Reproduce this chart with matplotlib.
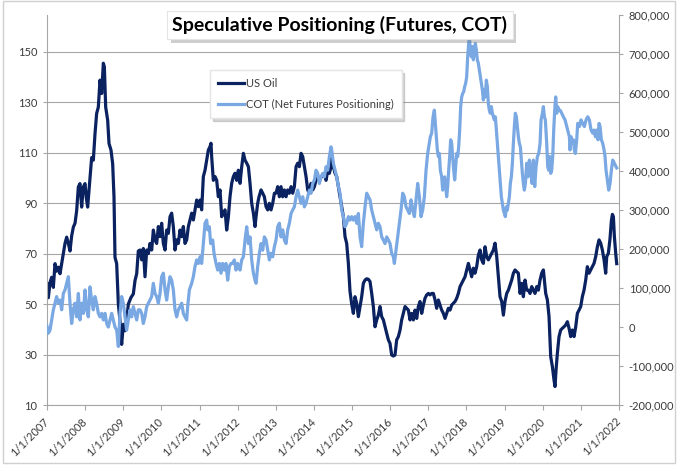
import matplotlib
matplotlib.use("Agg")
import matplotlib.pyplot as plt
from matplotlib import patheffects
from matplotlib.patches import Rectangle
from matplotlib.ticker import FuncFormatter

plt.rcParams["font.family"] = ["Lato", "DejaVu Sans"]

# US Oil (left axis, USD) -- (decimal year, price)
oil_t = [
    2007.000, 2007.035, 2007.079, 2007.122, 2007.166, 2007.210, 2007.253, 2007.297, 2007.341, 2007.385,
    2007.428, 2007.472, 2007.516, 2007.560, 2007.603, 2007.647, 2007.691, 2007.735, 2007.778, 2007.822,
    2007.865, 2007.909, 2007.953, 2007.997, 2008.031, 2008.066, 2008.128, 2008.171, 2008.215, 2008.259,
    2008.302, 2008.346, 2008.390, 2008.434, 2008.477, 2008.504, 2008.539, 2008.591, 2008.626, 2008.678,
    2008.722, 2008.757, 2008.783, 2008.827, 2008.871, 2008.914, 2008.958, 2009.002, 2009.046, 2009.089,
    2009.133, 2009.203, 2009.264, 2009.308, 2009.352, 2009.395,
    2009.439, 2009.483, 2009.526, 2009.570, 2009.614, 2009.658, 2009.701, 2009.745, 2009.789, 2009.832,
    2009.876, 2009.920, 2009.964, 2010.007, 2010.051, 2010.095, 2010.138, 2010.182, 2010.226, 2010.269,
    2010.313, 2010.357, 2010.401, 2010.444, 2010.488, 2010.532, 2010.575, 2010.619, 2010.663, 2010.707,
    2010.750, 2010.794, 2010.838, 2010.881, 2010.925, 2010.969, 2011.013, 2011.056, 2011.100, 2011.144,
    2011.187, 2011.231, 2011.275, 2011.301, 2011.318, 2011.362, 2011.406, 2011.450, 2011.493, 2011.537,
    2011.581, 2011.624, 2011.668, 2011.712, 2011.756, 2011.799, 2011.843, 2011.887, 2011.930, 2011.974,
    2012.018, 2012.062, 2012.106, 2012.150, 2012.193, 2012.237, 2012.281, 2012.324, 2012.368, 2012.412,
    2012.455, 2012.482, 2012.525, 2012.560, 2012.613, 2012.657, 2012.700, 2012.744, 2012.788, 2012.831,
    2012.875, 2012.919, 2012.963, 2013.006, 2013.050, 2013.094, 2013.137, 2013.181, 2013.225, 2013.269,
    2013.312, 2013.356, 2013.400, 2013.443, 2013.487, 2013.531, 2013.574, 2013.618, 2013.662, 2013.706,
    2013.749, 2013.793, 2013.837, 2013.880, 2013.924, 2013.968, 2014.012, 2014.055, 2014.099, 2014.143,
    2014.186, 2014.230, 2014.274, 2014.318, 2014.361, 2014.405, 2014.449, 2014.466, 2014.509, 2014.553,
    2014.597, 2014.641, 2014.684, 2014.728, 2014.772, 2014.815, 2014.859, 2014.903, 2014.946, 2014.990,
    2015.034, 2015.077, 2015.121, 2015.165, 2015.209, 2015.252, 2015.296, 2015.340, 2015.384, 2015.427,
    2015.471, 2015.515, 2015.558, 2015.602, 2015.646, 2015.689, 2015.733, 2015.777, 2015.821, 2015.864,
    2015.908, 2015.952, 2015.995, 2016.039, 2016.083, 2016.126, 2016.170, 2016.214, 2016.258, 2016.301,
    2016.345, 2016.389, 2016.432, 2016.476, 2016.520, 2016.564, 2016.607, 2016.651, 2016.695, 2016.738,
    2016.782, 2016.826, 2016.870, 2016.913, 2016.957, 2017.001, 2017.044, 2017.088, 2017.132, 2017.176,
    2017.219, 2017.263, 2017.307, 2017.350, 2017.394, 2017.438, 2017.481, 2017.525, 2017.569, 2017.613,
    2017.656, 2017.700, 2017.744, 2017.787, 2017.831, 2017.875, 2017.918, 2017.962, 2018.006, 2018.050,
    2018.093, 2018.137, 2018.181, 2018.224, 2018.268, 2018.312, 2018.356, 2018.399, 2018.443, 2018.487,
    2018.530, 2018.574, 2018.618, 2018.662, 2018.705, 2018.749, 2018.793, 2018.836, 2018.880, 2018.924,
    2018.968, 2019.011, 2019.055, 2019.099, 2019.142, 2019.186, 2019.230, 2019.274, 2019.317, 2019.361,
    2019.405, 2019.449, 2019.492, 2019.536, 2019.580, 2019.623, 2019.667, 2019.711, 2019.754, 2019.798,
    2019.842, 2019.886, 2019.929, 2019.973, 2020.017, 2020.034, 2020.078, 2020.122, 2020.165, 2020.209,
    2020.253, 2020.296, 2020.322, 2020.349, 2020.384, 2020.427, 2020.471, 2020.515, 2020.558, 2020.602,
    2020.646, 2020.690, 2020.733, 2020.777, 2020.821, 2020.865, 2020.908, 2020.952, 2020.996, 2021.039,
    2021.083, 2021.127, 2021.170, 2021.214, 2021.258, 2021.302, 2021.345, 2021.389, 2021.433, 2021.477,
    2021.520, 2021.564, 2021.608, 2021.651, 2021.678, 2021.721, 2021.765, 2021.800, 2021.827, 2021.853,
    2021.879, 2021.914, 2021.940,
]
oil_v = [
    58, 52.5, 58.5, 60.6, 56.6, 66, 63, 64.6, 62, 66,
    70, 74, 76.5, 74, 71, 77, 80.5, 82, 87, 96.4,
    97.7, 88.4, 96.4, 97.7, 92, 88.4, 100, 108, 107, 117.5,
    125.5, 128, 138.7, 133.4, 145.4, 144, 128, 122.8, 113.6, 111,
    105.6, 92.4, 68.5, 66, 50, 43.4, 34, 42, 39.4, 43.4,
    50, 52.6, 54, 59.3, 62, 71,
    71.4, 67.5, 72, 60.8, 71.4, 70, 74, 71.4, 79.3, 75.4,
    74, 80.7, 76.7, 82, 74, 71.4, 79.3, 78, 84.6, 86,
    80.7, 71.4, 75.4, 74, 79.3, 76.7, 80.7, 74, 75.4, 80.7,
    83.3, 86, 83.3, 87.3, 91.2, 88.6, 91.2, 87.3, 100.5, 103,
    107, 111, 112.4, 113.7, 108.4, 99, 100.5, 99, 92.5, 95.2,
    84.6, 86, 87.3, 79.3, 84.6, 92.5, 97.8, 100.5, 101.8, 99,
    103, 97.8, 104.4, 109.7, 107, 105.8, 104.4, 97.8, 89.9, 86,
    80.7, 84.6, 89.9, 92.5, 95.2, 93.9, 92.5, 88.6, 87.3, 89.9,
    87.3, 89.9, 93.9, 93.9, 96.5, 92.5, 96.5, 92.5, 95.2, 92.5,
    95.2, 93.9, 96.5, 93.9, 96.5, 104.4, 105.8, 104.4, 109.7, 108.4,
    104.4, 100.5, 95.2, 93.9, 97.8, 95.2, 96.5, 99, 100.5, 99,
    100.5, 100.5, 101.8, 99, 103, 101.8, 104.4, 108.4, 104.4, 101.8,
    100.5, 96.5, 92.5, 88.6, 84.6, 76.7, 74, 66.1, 55, 50,
    46.3, 52.9, 50.3, 45, 49, 52.9, 58.2, 59.5, 60, 59.8,
    58.9, 54.2, 49, 41, 43.7, 45.6, 49, 45, 43.7, 41,
    38.4, 35.8, 34.4, 29.8, 29.4, 29.8, 35.8, 37.1, 39.7, 43.7,
    46.3, 49, 48.3, 47.6, 43.7, 46.3, 43.7, 47.6, 44.3, 49,
    51, 46.3, 49.6, 52.3, 53.6, 54.2, 53.6, 54.2, 54.2, 51.6,
    48.3, 51.6, 49.6, 47.6, 46.3, 44.3, 46.3, 48.3, 47.6, 49.6,
    50.3, 51, 52.3, 54.2, 56.9, 58.2, 59.5, 60.8, 63.5, 66.1,
    63.5, 60.8, 64.2, 62.2, 64.8, 69.4, 71.4, 67.5, 66.1, 72.7,
    68.8, 67.5, 68.8, 70.1, 71.4, 74.1, 68.8, 60.8, 52.9, 51,
    45.6, 51, 54.2, 55.5, 57.5, 59.5, 62.2, 63.5, 62.8, 62.2,
    54.2, 58.2, 52.9, 59.5, 55.5, 55.5, 54.2, 56.9, 55.5, 54.2,
    56.9, 55.5, 59.5, 62.2, 63.5, 60.8, 54.2, 51.6, 45, 29.2,
    25.2, 19.9, 17.3, 23.9, 30.5, 37.1, 39.7, 40.4, 41, 41.7,
    43, 40.4, 37.1, 39.7, 37.1, 41, 46.3, 47.6, 49, 52.9,
    55.5, 59.5, 64.8, 62.2, 63.5, 64.8, 66.1, 68.8, 72.7, 75.4,
    74.1, 71.4, 67.5, 62.2, 68.8, 70.1, 76, 83, 85.5, 84.6,
    76.7, 70, 66,
]

# COT net futures positioning (right axis, thousands of contracts)
cot_t = [
    2007.000, 2007.035, 2007.079, 2007.122, 2007.166, 2007.210, 2007.253, 2007.297, 2007.341, 2007.385,
    2007.428, 2007.472, 2007.516, 2007.559, 2007.603, 2007.647, 2007.690, 2007.734, 2007.778, 2007.822,
    2007.865, 2007.909, 2007.953, 2007.997, 2008.040, 2008.084, 2008.128, 2008.171, 2008.215, 2008.259,
    2008.302, 2008.346, 2008.390, 2008.434, 2008.477, 2008.521, 2008.565, 2008.608, 2008.652, 2008.696,
    2008.739, 2008.783, 2008.827, 2008.871, 2008.914, 2008.958, 2009.002, 2009.046, 2009.089, 2009.133,
    2009.177, 2009.220, 2009.264, 2009.308, 2009.352, 2009.395,
    2009.439, 2009.483, 2009.526, 2009.570, 2009.614, 2009.658, 2009.701, 2009.745, 2009.789, 2009.832,
    2009.876, 2009.920, 2009.964, 2010.007, 2010.051, 2010.095, 2010.138, 2010.182, 2010.226, 2010.269,
    2010.313, 2010.357, 2010.401, 2010.444, 2010.488, 2010.532, 2010.575, 2010.619, 2010.663, 2010.689,
    2010.733, 2010.794, 2010.838, 2010.881, 2010.925, 2010.969, 2011.013, 2011.056, 2011.100, 2011.144,
    2011.187, 2011.214, 2011.257, 2011.292, 2011.345, 2011.380, 2011.432, 2011.476, 2011.520, 2011.563,
    2011.607, 2011.651, 2011.694, 2011.738, 2011.782, 2011.826, 2011.869, 2011.913, 2011.957, 2012.000,
    2012.018, 2012.062, 2012.106, 2012.150, 2012.193, 2012.237, 2012.281, 2012.324, 2012.368, 2012.412,
    2012.455, 2012.482, 2012.525, 2012.569, 2012.613, 2012.657, 2012.700, 2012.744, 2012.788, 2012.831,
    2012.875, 2012.919, 2012.963, 2013.006, 2013.050, 2013.094, 2013.137, 2013.181, 2013.225, 2013.269,
    2013.312, 2013.356, 2013.400, 2013.443, 2013.487, 2013.531, 2013.574, 2013.618, 2013.662, 2013.706,
    2013.749, 2013.793, 2013.837, 2013.880, 2013.924, 2013.968, 2014.012, 2014.055, 2014.099, 2014.143,
    2014.186, 2014.230, 2014.274, 2014.318, 2014.361, 2014.405, 2014.449, 2014.466, 2014.509, 2014.553,
    2014.597, 2014.641, 2014.684, 2014.728, 2014.772, 2014.815, 2014.859, 2014.903, 2014.946, 2014.990,
    2015.034, 2015.078, 2015.121, 2015.165, 2015.209, 2015.252, 2015.296, 2015.340, 2015.384, 2015.427,
    2015.471, 2015.515, 2015.558, 2015.602, 2015.646, 2015.689, 2015.733, 2015.777, 2015.821, 2015.864,
    2015.908, 2015.952, 2015.995, 2016.039, 2016.083, 2016.109, 2016.153, 2016.197, 2016.240, 2016.284,
    2016.328, 2016.371, 2016.415, 2016.459, 2016.503, 2016.546, 2016.590, 2016.634, 2016.677, 2016.721,
    2016.765, 2016.808, 2016.852, 2016.896, 2016.940, 2016.983, 2017.027, 2017.053, 2017.088, 2017.123,
    2017.158, 2017.184, 2017.210, 2017.236, 2017.263, 2017.289, 2017.315, 2017.350, 2017.376, 2017.403,
    2017.429, 2017.455, 2017.481, 2017.507, 2017.534, 2017.560, 2017.586, 2017.612, 2017.638, 2017.665,
    2017.691, 2017.717, 2017.743, 2017.770, 2017.796, 2017.822, 2017.848, 2017.875, 2017.901, 2017.927,
    2017.953, 2017.980, 2018.006, 2018.032, 2018.058, 2018.076, 2018.102, 2018.128, 2018.154, 2018.181,
    2018.207, 2018.233, 2018.259, 2018.285, 2018.312, 2018.338, 2018.364, 2018.390, 2018.417, 2018.443,
    2018.469, 2018.495, 2018.521, 2018.548, 2018.574, 2018.600, 2018.626, 2018.653, 2018.679, 2018.705,
    2018.731, 2018.758, 2018.784, 2018.810, 2018.836, 2018.862, 2018.889, 2018.915, 2018.941, 2018.967,
    2018.994, 2019.020, 2019.046, 2019.072, 2019.099, 2019.125, 2019.151, 2019.177, 2019.204, 2019.230,
    2019.256, 2019.282, 2019.308, 2019.335, 2019.361, 2019.387, 2019.413, 2019.440, 2019.466, 2019.492,
    2019.518, 2019.545, 2019.580, 2019.615, 2019.650, 2019.685, 2019.720, 2019.755, 2019.790, 2019.825,
    2019.860, 2019.895, 2019.930, 2019.956, 2019.991, 2020.017, 2020.043, 2020.069, 2020.104, 2020.131,
    2020.157, 2020.183, 2020.209, 2020.235, 2020.262, 2020.288, 2020.314, 2020.340, 2020.367, 2020.393,
    2020.419, 2020.454, 2020.498, 2020.541, 2020.585, 2020.629, 2020.673, 2020.699, 2020.716, 2020.743,
    2020.769, 2020.804, 2020.830, 2020.856, 2020.891, 2020.917, 2020.961, 2021.005, 2021.048, 2021.092,
    2021.136, 2021.180, 2021.223, 2021.267, 2021.311, 2021.346, 2021.381, 2021.416, 2021.451, 2021.477,
    2021.503, 2021.538, 2021.573, 2021.608, 2021.634, 2021.660, 2021.695, 2021.730, 2021.765, 2021.800,
    2021.835, 2021.879, 2021.922, 2021.940,
]
cot_thousands = [
    2, -16, -8, 18, 44, 61, 78, 61, 69, 44,
    86, 95, 112, 129, 61, 9, 44, 61, 26, 86,
    18, 61, 35, 95, 44, 26, 103, 69, 44, 78,
    61, 35, 26, 35, 18, 35, 9, 0, 18, 35,
    18, 0, -8, -50, 35, 78, 61, 26, -8, 18,
    44, 26, 52, 35, 18, 44,
    44, 35, 9, 26, 52, 61, 69, 78, 112, 86,
    78, 61, 86, 129, 138, 95, 69, 103, 129, 120,
    95, 44, 26, 44, 52, 61, 35, 26, 18, 52,
    95, 112, 129, 155, 172, 163, 180, 163, 214, 266,
    274, 249, 257, 214, 223, 189, 163, 146, 163, 138,
    163, 146, 163, 120, 155, 163, 163, 172, 146, 163,
    155, 146, 172, 180, 223, 257, 214, 231, 172, 138,
    120, 112, 155, 189, 214, 197, 231, 223, 197, 172,
    189, 180, 206, 223, 257, 266, 231, 249, 223, 214,
    249, 266, 291, 300, 308, 334, 351, 334, 317, 334,
    308, 317, 334, 351, 343, 368, 377, 402, 394, 368,
    385, 394, 385, 411, 402, 437, 462, 454, 420, 402,
    385, 360, 343, 300, 283, 257, 266, 283, 274, 283,
    274, 283, 266, 291, 231, 206, 266, 308, 343, 334,
    326, 300, 283, 266, 249, 266, 257, 231, 223, 214,
    231, 223, 214, 189, 180, 163, 197, 231, 266, 300,
    343, 334, 308, 300, 291, 326, 300, 283, 326, 368,
    334, 283, 300, 334, 402, 445, 471, 488, 497, 539,
    556, 522, 488, 454, 437, 445, 402, 385, 351, 368,
    385, 360, 334, 360, 402, 437, 480, 471, 437, 402,
    377, 411, 445, 437, 462, 505, 565, 590, 599, 603,
    616, 625, 642, 693, 727, 745, 710, 693, 719, 685,
    710, 727, 710, 685, 676, 659, 642, 625, 608, 582,
    608, 590, 633, 616, 573, 556, 548, 565, 548, 539,
    531, 539, 505, 471, 437, 402, 368, 334, 317, 300,
    291, 283, 308, 300, 317, 334, 368, 385, 420, 471,
    514, 548, 539, 514, 488, 471, 462, 428, 394, 368,
    351, 368, 420, 385, 428, 402, 368, 428, 360, 411,
    437, 445, 471, 531, 548, 565, 539, 531, 471, 411,
    402, 437, 394, 402, 437, 505, 556, 590, 548, 565,
    556, 556, 548, 539, 531, 514, 497, 488, 454, 488,
    471, 480, 454, 445, 480, 522, 514, 531, 522, 514,
    531, 539, 531, 505, 497, 505, 488, 505, 480, 522,
    514, 480, 471, 454, 437, 402, 377, 351, 368, 402,
    428, 420, 411, 408,
]

year_ticks = list(range(2007, 2023))
year_labels = [f"1/1/{y}" for y in year_ticks]
left_ticks = [10, 30, 50, 70, 90, 110, 130, 150]
right_ticks = [-200000, -100000, 0, 100000, 200000, 300000, 400000, 500000, 600000, 700000, 800000]

OIL_COLOR = "#0b2260"
COT_COLOR = "#79a8e3"
AXIS_GRAY = "#a6a6a6"
TEXT_GRAY = "#3b3b3b"

W, H = 680, 467
fig = plt.figure(figsize=(W / 100, H / 100), dpi=100)
fig.patch.set_facecolor("white")

ax = fig.add_axes([47 / W, 62 / H, 572 / W, 390 / H])
ax2 = ax.twinx()

oil_line, = ax.plot(oil_t, oil_v, color=OIL_COLOR, lw=2.3, label="US Oil", solid_joinstyle="round")
cot_line, = ax2.plot(cot_t, [v * 1000 for v in cot_thousands], color=COT_COLOR, lw=2.3,
                     label="COT (Net Futures Positioning)", solid_joinstyle="round")

ax.set_xlim(2007, 2022)
ax.set_ylim(10, 164.5)
ax2.set_ylim(-200000, 800000)

ax.set_yticks(left_ticks)
ax.set_xticks(year_ticks)
ax.set_xticklabels(year_labels, rotation=45, ha="right", va="center", rotation_mode="anchor")
ax2.set_yticks(right_ticks)
ax2.yaxis.set_major_formatter(FuncFormatter(lambda v, _: f"{v:,.0f}"))

ax.grid(axis="y", color=AXIS_GRAY, lw=0.8)
ax.set_axisbelow(True)

for a in (ax, ax2):
    a.spines["top"].set_visible(False)
ax.spines["right"].set_visible(False)
ax2.spines["left"].set_visible(False)
ax2.spines["bottom"].set_visible(False)
ax.spines["left"].set_color(AXIS_GRAY)
ax.spines["bottom"].set_color(AXIS_GRAY)
ax2.spines["right"].set_color(AXIS_GRAY)

ax.tick_params(axis="y", length=3, width=0.8, color=AXIS_GRAY, pad=4, labelsize=8, labelcolor=TEXT_GRAY)
ax.tick_params(axis="x", length=3.5, width=0.8, color=AXIS_GRAY, pad=7, labelsize=8, labelcolor=TEXT_GRAY)
ax2.tick_params(axis="y", length=3, width=0.8, color=AXIS_GRAY, pad=4, labelsize=8, labelcolor=TEXT_GRAY)

leg = ax2.legend(handles=[oil_line, cot_line], loc="upper left",
                 bbox_to_anchor=(210 / W, 1 - 70 / H), bbox_transform=fig.transFigure,
                 fontsize=8, handlelength=2.3, handletextpad=0.15, labelspacing=0.85,
                 borderpad=0.75, borderaxespad=0, frameon=True, fancybox=False,
                 edgecolor="#e4e4e4", facecolor="white", framealpha=1,
                 shadow={"color": "0.55", "alpha": 0.35})
for t in leg.get_texts():
    t.set_color(TEXT_GRAY)

title = fig.text(340 / W, 1 - 25 / H, "Speculative Positioning (Futures, COT)",
                 ha="center", va="center", fontsize=14, fontweight="bold", color="black",
                 bbox=dict(boxstyle="square,pad=0.28", fc="white", ec="#e4e4e4", lw=0.8),
                 zorder=10)
title.get_bbox_patch().set_path_effects([
    patheffects.SimplePatchShadow(offset=(2.5, -2.5), shadow_rgbFace="0.45", alpha=0.35),
    patheffects.Normal(),
])

fig.patches.append(Rectangle((3 / W, 4 / H), 672 / W, 462 / H, transform=fig.transFigure,
                             fill=False, ec="#d0d0d0", lw=1.0, zorder=0))

fig.savefig("out.png", dpi=100)
